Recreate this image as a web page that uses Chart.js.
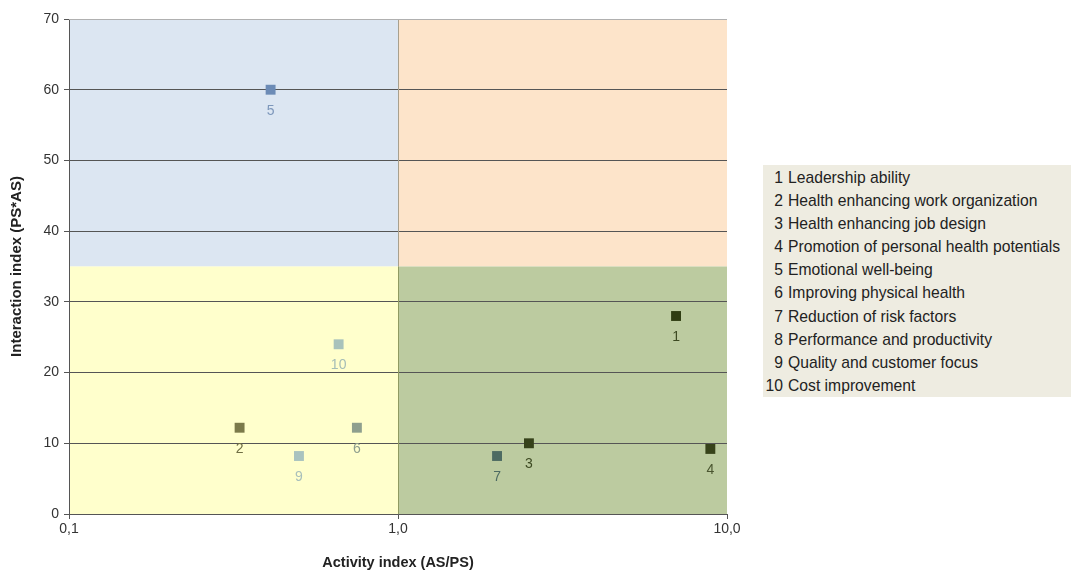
<!DOCTYPE html>
<html>
<head>
<meta charset="utf-8">
<script src="https://cdn.jsdelivr.net/npm/chart.js@4/dist/chart.umd.min.js"></script>
<style>
  body { margin: 0; background: #fff; }
  #wrap { position: relative; width: 1073px; height: 572px; }
  #legendBox {
    position: absolute; left: 763px; top: 165px; width: 308px; height: 232px;
    background: #eeece1; font-family: "Liberation Sans", Arial, sans-serif;
    font-size: 15.7px; color: #222; box-sizing: border-box; padding-top: 1px;
  }
  #legendBox div { height: 23.1px; line-height: 23px; white-space: nowrap; }
  #legendBox span { display: inline-block; width: 20px; text-align: right; margin-right: 5px; }
</style>
</head>
<body>
<div id="wrap">
  <canvas id="quadChart" width="1073" height="572"></canvas>
  <div id="legendBox"></div>
</div>
<script>
const itemNames = [
  'Leadership ability',
  'Health enhancing work organization',
  'Health enhancing job design',
  'Promotion of personal health potentials',
  'Emotional well-being',
  'Improving physical health',
  'Reduction of risk factors',
  'Performance and productivity',
  'Quality and customer focus',
  'Cost improvement'
];
// activity index (AS/PS), log scale
const activityValues = [7.0, 0.33, 2.5, 8.9, 0.41, 0.75, 2.0, null, 0.5, 0.66];
// interaction index (PS*AS)
const interactionValues = [28, 12.2, 10, 9.2, 60, 12.2, 8.2, null, 8.2, 24];
const pointColors = ['#2f3d12', '#7b7a4a', '#36421a', '#37431a', '#6c8bb6',
  '#8e9f8e', '#4d6b62', '#888888', '#a9c3bf', '#a8c2bb'];
const labelColors = ['#3d4a22', '#6f6e44', '#3d4a22', '#4a5530', '#7d97bb',
  '#8e9e8e', '#4d6b62', '#888888', '#a8bfbb', '#a5bdb6'];
const xTicks = [0.1, 1, 10];
const xTickLabels = ['0,1', '1,0', '10,0'];
const splitX = 1;
const splitY = 35;

const legendBox = document.getElementById('legendBox');
itemNames.forEach((n, i) => {
  legendBox.innerHTML += `<div><span>${i + 1}</span>${n}</div>`;
});

const datasets = itemNames.map((n, i) => ({
  label: (i + 1) + ' ' + n,
  data: activityValues[i] === null ? [] : [{ x: activityValues[i], y: interactionValues[i] }],
  backgroundColor: pointColors[i],
  borderColor: pointColors[i],
  pointStyle: 'rect',
  pointRadius: 7,
  pointBorderWidth: 0
}));

const quadrants = {
  id: 'quadrants',
  beforeDraw(chart) {
    const { ctx, chartArea: a, scales: { x, y } } = chart;
    const mx = x.getPixelForValue(splitX);
    const my = y.getPixelForValue(splitY);
    ctx.save();
    ctx.fillStyle = '#dce6f2'; ctx.fillRect(a.left, a.top, mx - a.left, my - a.top);
    ctx.fillStyle = '#fde4ca'; ctx.fillRect(mx, a.top, a.right - mx, my - a.top);
    ctx.fillStyle = '#ffffcc'; ctx.fillRect(a.left, my, mx - a.left, a.bottom - my);
    ctx.fillStyle = '#bccba0'; ctx.fillRect(mx, my, a.right - mx, a.bottom - my);
    ctx.restore();
  },
  afterDraw(chart) {
    const { ctx, chartArea: a, scales: { x, y } } = chart;
    const mx = x.getPixelForValue(splitX);
    const my = y.getPixelForValue(splitY);
    ctx.save();
    ctx.lineWidth = 1;
    ctx.strokeStyle = '#a8a08e';
    ctx.beginPath(); ctx.moveTo(mx + 0.5, a.top); ctx.lineTo(mx + 0.5, my); ctx.stroke();
    ctx.strokeStyle = '#8f9a62';
    ctx.beginPath(); ctx.moveTo(mx + 0.5, my); ctx.lineTo(mx + 0.5, a.bottom); ctx.stroke();
    ctx.strokeStyle = '#b0b0b0';
    ctx.beginPath(); ctx.moveTo(a.left, a.top + 0.5); ctx.lineTo(a.right, a.top + 0.5); ctx.stroke();
    ctx.restore();
  }
};

const pointLabels = {
  id: 'pointLabels',
  afterDatasetsDraw(chart) {
    const ctx = chart.ctx;
    ctx.save();
    ctx.font = '14px "Liberation Sans", Arial, sans-serif';
    ctx.textAlign = 'center';
    ctx.textBaseline = 'middle';
    chart.data.datasets.forEach((ds, i) => {
      const meta = chart.getDatasetMeta(i);
      meta.data.forEach(pt => {
        ctx.fillStyle = labelColors[i];
        ctx.fillText(String(i + 1), pt.x, pt.y + 21);
      });
    });
    ctx.restore();
  }
};

const tickFont = { family: '"Liberation Sans", Arial, sans-serif', size: 14 };

new Chart(document.getElementById('quadChart'), {
  type: 'scatter',
  data: { datasets },
  options: {
    responsive: false,
    animation: false,
    layout: { padding: { left: 0, right: 346, top: 19, bottom: 0 } },
    plugins: { legend: { display: false }, tooltip: { enabled: false } },
    scales: {
      x: {
        type: 'logarithmic',
        min: 0.1,
        max: 10,
        afterBuildTicks(scale) { scale.ticks = xTicks.map(v => ({ value: v })); },
        afterFit(scale) { scale.height = 58; },
        ticks: {
          color: '#333',
          font: tickFont,
          padding: 2,
          autoSkip: false,
          maxRotation: 0,
          callback: (v) => xTickLabels[xTicks.indexOf(v)]
        },
        grid: { drawOnChartArea: false, color: '#555', tickLength: 5 },
        border: { color: '#555', width: 1 },
        title: {
          display: true, text: 'Activity index (AS/PS)', color: '#222',
          font: { family: '"Liberation Sans", Arial, sans-serif', size: 14.5, weight: 'bold' },
          padding: { top: 6, bottom: 0 }
        }
      },
      y: {
        min: 0,
        max: 70,
        afterFit(scale) { scale.width = 69; },
        ticks: { stepSize: 10, color: '#333', font: tickFont, padding: 5 },
        grid: { color: '#555', tickLength: 5 },
        border: { color: '#555', width: 1 },
        title: {
          display: true, text: 'Interaction index (PS*AS)', color: '#222',
          font: { family: '"Liberation Sans", Arial, sans-serif', size: 15, weight: 'bold' },
          padding: { top: 8, bottom: 0 }
        }
      }
    }
  },
  plugins: [quadrants, pointLabels]
});
</script>
</body>
</html>
